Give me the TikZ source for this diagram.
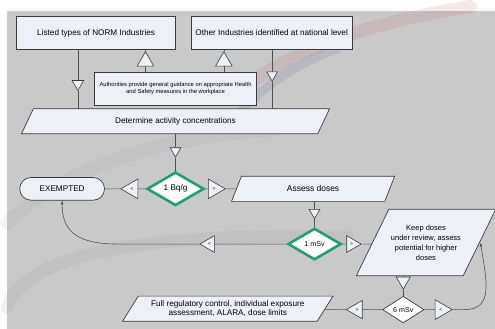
\documentclass[tikz,border=0pt]{standalone}
\usepackage{fontspec}
\setmainfont{Liberation Sans}
\usetikzlibrary{shapes.geometric,arrows.meta,positioning}

\definecolor{bggray}{HTML}{C9C9C9}
\definecolor{boxfill}{HTML}{EEF0F8}
\definecolor{boxline}{HTML}{3A3A3A}
\definecolor{linkgray}{HTML}{505050}
\definecolor{bqgreen}{HTML}{1E9E72}

\pgfdeclarelayer{backdrop}
\pgfdeclarelayer{shapes}
\pgfsetlayers{backdrop,shapes,main}

\tikzset{
	boxdraw/.style={draw=boxline, fill=boxfill, line width=0.7pt},
	box/.style={boxdraw, inner sep=1pt, align=center, font=\fontsize{8.3}{9.5}\selectfont},
	slanttext/.style={inner sep=0pt, align=center, font=\fontsize{8.3}{9.5}\selectfont},
	check/.style={diamond, draw=boxline, fill=white, line width=0.7pt, inner sep=0pt, font=\fontsize{7.2}{8}\selectfont},
	greencheck/.style={check, draw=bqgreen, line width=2.6pt},
	tri/.style={regular polygon, regular polygon sides=3, draw=boxline, fill=boxfill, line width=0.6pt, inner sep=0pt, font=\fontsize{5}{5}\selectfont},
	link/.style={draw=linkgray, line width=0.6pt},
	swoosh/.style={line cap=round, line width=#1},
}

% parallelogram round a (plain) node: name, slant
\newcommand\slantit[2]{%
	\begin{pgfonlayer}{shapes}
	\draw[boxdraw] ([xshift=#2]#1.north west) -- ([xshift=#2]#1.north east) -- ([xshift=-#2]#1.south east) -- ([xshift=-#2]#1.south west) -- cycle;
	\end{pgfonlayer}}

\begin{document}
\begin{tikzpicture}[x=1pt,y=-1pt]
\def\tsmall{13.5}
\def\tmid{19.5}
\def\tbig{23}

\begin{pgfonlayer}{backdrop}
\fill[bggray] (0,0) rectangle (495,322);
% faint logo swooshes
\draw[swoosh=13pt, red!45!gray, opacity=0.12] (240,78) .. controls (300,32) and (380,10) .. (470,-5);
\draw[swoosh=9pt, blue!25!gray, opacity=0.16] (238,100) .. controls (265,72) and (300,50) .. (335,38);
\draw[swoosh=13pt, gray, opacity=0.1] (0,300) .. controls (25,232) and (200,226) .. (345,229);
\draw[swoosh=14pt, gray, opacity=0.08] (0,215) .. controls (60,155) and (170,125) .. (270,120);
\end{pgfonlayer}
\useasboundingbox (0,0) rectangle (495,322);

% top row
\node[box, minimum width=161, minimum height=34] (listed) at (90.5,22) {Listed types of NORM Industries};
\node[box, minimum width=163, minimum height=34] (other) at (268.5,22) {Other Industries identified at national level};
\node[box, minimum width=164, minimum height=33, font=\fontsize{5.9}{7}\selectfont] (auth) at (171,78.5)
	{Authorities provide general guidance on appropriate Health\\and Safety measures in the workplace};

\node[slanttext, minimum width=300, minimum height=25] (determ) at (171,111.5) {Determine activity concentrations};
\slantit{determ}{6}

% checks
\node[greencheck, minimum width=58, minimum height=34, font=\fontsize{8.3}{9}\selectfont] (bq) at (171,180) {1 Bq/g};
\node[greencheck, minimum width=54, minimum height=32] (msv1) at (312,236) {1 mSv};
\node[check, minimum width=42, minimum height=27] (msv6) at (402,302.5) {6 mSv};

\node[box, minimum width=86, minimum height=23, rounded corners=11.5pt] (exempt) at (56,180) {EXEMPTED};

\node[slanttext, minimum width=155, minimum height=25, font=\fontsize{8.6}{9}\selectfont] (assess) at (310.5,180) {Assess doses};
\slantit{assess}{5}
\node[slanttext, minimum width=108, minimum height=67, font=\fontsize{7.6}{10.3}\selectfont] (keep) at (425,234.5)
	{Keep doses\\under review, assess\\potential for higher\\doses};
\slantit{keep}{16.5}
\node[slanttext, minimum width=197, minimum height=25] (full) at (224,301.5)
	{Full regulatory control, individual exposure\\assessment, ALARA, dose limits};
\slantit{full}{8}

% triangles on the links
\node[tri, minimum size=\tsmall, shape border rotate=180] (tL1) at (72,73.5) {};
\node[tri, minimum size=\tmid] (tA1) at (140.5,50.7) {};
\node[tri, minimum size=\tmid] (tA2) at (220,50.7) {};
\node[tri, minimum size=12.5, shape border rotate=180] (tO1) at (269,64.5) {};
\node[tri, minimum size=12.5, shape border rotate=180] (tD) at (171,141.5) {};
\node[tri, minimum size=\tbig, shape border rotate=90] (tB1) at (127,180) {<};
\node[tri, minimum size=\tbig, shape border rotate=-90] (tB2) at (210,180) {>};
\node[tri, minimum size=12.5, shape border rotate=180] (tS) at (312,204) {};
\node[tri, minimum size=\tmid, shape border rotate=90] (tM1) at (205.5,236) {<};
\node[tri, minimum size=\tmid, shape border rotate=-90] (tM2) at (349.5,236) {>};
\node[tri, minimum size=16.5, shape border rotate=180] (tK) at (402,273.5) {};
\node[tri, minimum size=21.5, shape border rotate=90] (tF) at (355,302.5) {>};
\node[tri, minimum size=\tbig, shape border rotate=-90] (tR) at (440,302.5) {<};

% links
\begin{pgfonlayer}{backdrop}
\draw[link] (tL1 |- listed.south) -- (tL1) -- (tL1 |- determ.north);
\draw[link] (tA1 |- auth.north) -- (tA1) -- (tA1 |- listed.south);
\draw[link] (tA2 |- auth.north) -- (tA2) -- (tA2 |- other.south);
\draw[link] (tO1 |- other.south) -- (tO1) -- (tO1 |- determ.north);
\draw[link] (tD |- determ.south) -- (tD) -- (bq);
\draw[link] (bq) -- (tB1) -- (exempt);
\draw[link] (bq) -- (tB2) -- (tB2 -| assess.west);
\draw[link] (tS |- assess.south) -- (tS) -- (msv1);
\draw[link] (msv1) -- (tM1);
\draw[link] (msv1) -- (tM2) -- (tM2 -| keep.west);
\draw[link] (tK |- keep.south) -- (tK) -- (msv6);
\draw[link] (msv6) -- (tF) -- (tF -| full.east);
\draw[link] (msv6) -- (tR);
\end{pgfonlayer}
% back to EXEMPTED and up to Keep doses
\draw[link, -{Latex[length=4pt,width=3pt]}] (tM1.west) -- ++(-83,0) .. controls +(-45,0) and +(0,28) .. (exempt.south);
\draw[link, -{Latex[length=4pt,width=3pt]}] (tR.east) -- ++(12,0) .. controls +(30,0) and +(6,38) .. ([xshift=1]keep.east);

\end{tikzpicture}
\end{document}
